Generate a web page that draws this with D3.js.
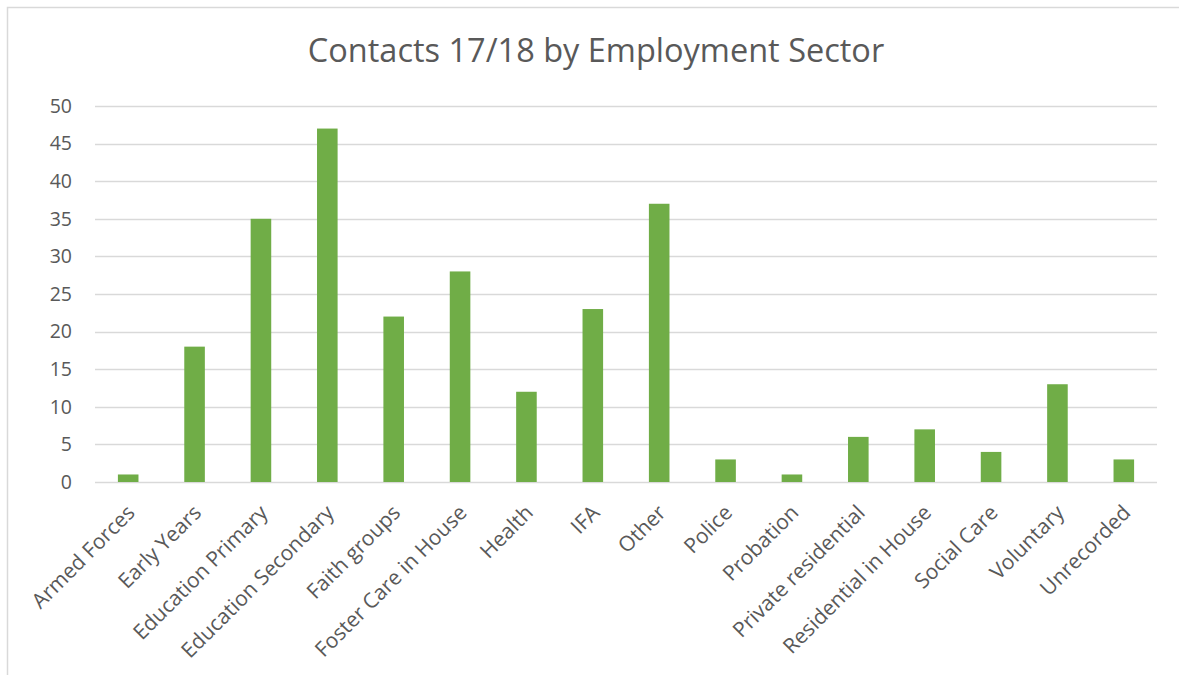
<!DOCTYPE html>
<html>
<head>
<meta charset="utf-8">
<script src="https://cdn.jsdelivr.net/npm/d3@7"></script>
<style>
  body { margin: 0; background: #fff; }
  text { font-family: "Open Sans", "Liberation Sans", sans-serif; fill: #595959; }
</style>
</head>
<body>
<div id="main"></div>
<script>
var categories = ["Armed Forces", "Early Years", "Education Primary", "Education Secondary",
  "Faith groups", "Foster Care in House", "Health", "IFA", "Other", "Police", "Probation",
  "Private residential", "Residential in House", "Social Care", "Voluntary", "Unrecorded"];
var contacts = [1, 18, 35, 47, 22, 28, 12, 23, 37, 3, 1, 6, 7, 4, 13, 3];
var yTicks = [0, 5, 10, 15, 20, 25, 30, 35, 40, 45, 50];
var chartTitle = "Contacts 17/18 by Employment Sector";

var W = 1179, H = 675;
var margin = {top: 106, right: 22, bottom: 193, left: 95};
var width = W - margin.left - margin.right,
    height = H - margin.top - margin.bottom;

var svg = d3.select("#main").append("svg")
    .attr("width", W)
    .attr("height", H);

// outer chart border (only top/left visible in the reference crop)
svg.append("rect")
    .attr("x", 7.5).attr("y", 7.5)
    .attr("width", W + 20).attr("height", H + 20)
    .attr("fill", "none")
    .attr("stroke", "#d9d9d9")
    .attr("stroke-width", 1.5);

svg.append("text")
    .attr("x", 596)
    .attr("y", 62)
    .attr("text-anchor", "middle")
    .style("font-size", "32.5px")
    .text(chartTitle);

var g = svg.append("g")
    .attr("transform", "translate(" + margin.left + "," + margin.top + ")");

var x = d3.scaleBand()
    .domain(categories)
    .range([0, width])
    .paddingInner(0.69)
    .paddingOuter(0.345);

var y = d3.scaleLinear()
    .domain([0, 50])
    .range([height, 0]);

// gridlines
g.append("g")
  .selectAll("line")
  .data(yTicks)
  .enter().append("line")
    .attr("x1", 0).attr("x2", width)
    .attr("y1", function(d) { return Math.round(y(d)) + 0.5; })
    .attr("y2", function(d) { return Math.round(y(d)) + 0.5; })
    .attr("stroke", "#d9d9d9")
    .attr("stroke-width", 1.5);

var yAxis = d3.axisLeft(y).tickValues(yTicks).tickSize(0).tickPadding(23);
g.append("g")
    .attr("class", "y axis")
    .call(yAxis)
    .call(function(s) { s.select(".domain").remove(); })
    .selectAll("text")
    .style("font-size", "19.5px");

g.selectAll(".bar")
    .data(contacts)
  .enter().append("rect")
    .attr("class", "bar")
    .attr("x", function(d, i) { return x(categories[i]); })
    .attr("width", x.bandwidth())
    .attr("y", function(d) { return y(d); })
    .attr("height", function(d) { return height - y(d); })
    .attr("fill", "#70ad47");

var xAxis = d3.axisBottom(x).tickSize(0).tickPadding(0);
var xg = g.append("g")
    .attr("class", "x axis")
    .attr("transform", "translate(0," + height + ")")
    .call(xAxis);
xg.select(".domain").remove();
xg.selectAll("text")
    .style("font-size", "21px")
    .attr("text-anchor", "end")
    .attr("dy", null)
    .attr("y", 0)
    .attr("transform", "translate(8,32) rotate(-45)");
</script>
</body>
</html>
